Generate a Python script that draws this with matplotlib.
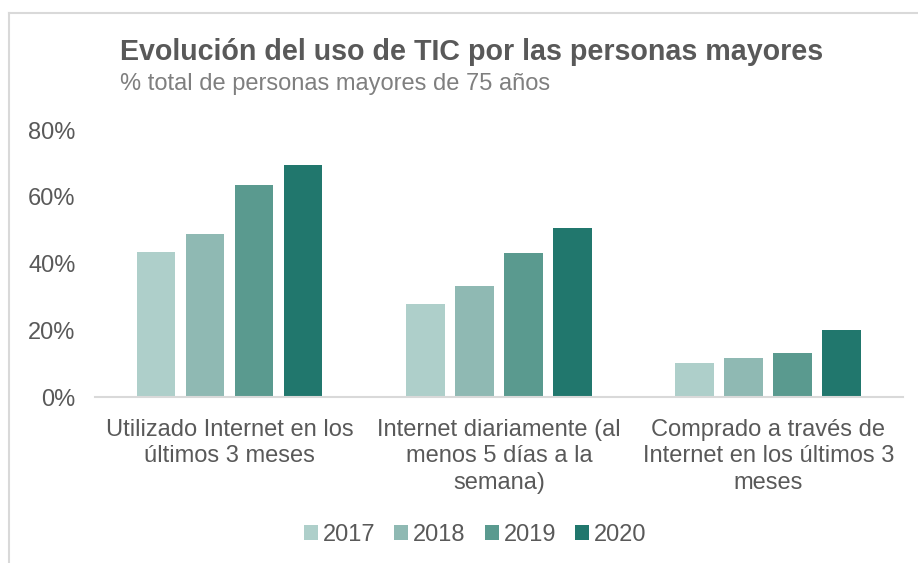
import matplotlib.pyplot as plt
import numpy as np
from matplotlib.lines import Line2D
from matplotlib.patches import Patch

plt.rcParams['font.family'] = ['Liberation Sans', 'DejaVu Sans']

# Datos (proporción sobre el total)
categorias = ['Utilizado Internet en los\núltimos 3 meses',
              'Internet diariamente (al\nmenos 5 días a la\nsemana)',
              'Comprado a través de\nInternet en los últimos 3\nmeses']
anios = ['2017', '2018', '2019', '2020']
v2017 = [0.435, 0.280, 0.103]
v2018 = [0.490, 0.333, 0.118]
v2019 = [0.634, 0.432, 0.133]
v2020 = [0.695, 0.506, 0.202]
series = [v2017, v2018, v2019, v2020]
colores = ['#AECFCA', '#8FB9B3', '#5A9A8F', '#21776D']

gris = '#595959'

fig = plt.figure(figsize=(9.18, 5.63), dpi=100)
ax = fig.add_axes([0.1035, 0.2948, 0.880, 0.4742])

x = np.arange(len(categorias))
ancho = 0.143
paso = 0.182
for i, (vals, col) in enumerate(zip(series, colores)):
    ax.bar(x + (i - 1.5) * paso, vals, width=ancho, color=col, label=anios[i])

ax.set_xlim(-0.5, 2.5)
ax.set_ylim(0, 0.8)
ax.set_yticks([0, 0.2, 0.4, 0.6, 0.8])
ax.set_yticklabels(['0%', '20%', '40%', '60%', '80%'])
ax.tick_params(axis='y', length=0, pad=14, labelsize=17, labelcolor=gris)
ax.set_xticks([])
for s in ['top', 'right', 'left']:
    ax.spines[s].set_visible(False)
ax.spines['bottom'].set_color('#D9D9D9')
ax.spines['bottom'].set_linewidth(1.5)

# Etiquetas de categoría en varias líneas
for xi, cat in zip(x, categorias):
    ax.text(xi, -0.065, cat, ha='center', va='top', fontsize=17,
            color=gris, linespacing=1.27)

# Título y subtítulo
fig.text(120 / 918, 1 - 52 / 563, 'Evolución del uso de TIC por las personas mayores',
         fontsize=20.6, fontweight='bold', color=gris, ha='left', va='center')
fig.text(120 / 918, 1 - 84 / 563, '% total de personas mayores de 75 años',
         fontsize=17, color='#7F7F7F', ha='left', va='center')

# Leyenda
handles = [Patch(facecolor=c, edgecolor='none') for c in colores]
fig.legend(handles, anios, loc='center', bbox_to_anchor=(475 / 918, 1 - 535 / 563), ncol=4,
           frameon=False, fontsize=17, labelcolor=gris, handlelength=0.6,
           handleheight=0.6, handletextpad=0.2, columnspacing=0.8)

# Marco exterior (solo arriba e izquierda visibles)
fig.add_artist(Line2D([9 / 918, 9 / 918], [0, 1 - 13 / 563], color='#D9D9D9', lw=1.5))
fig.add_artist(Line2D([9 / 918, 1], [1 - 13 / 563, 1 - 13 / 563], color='#D9D9D9', lw=1.5))

fig.savefig('out.png', dpi=100)
